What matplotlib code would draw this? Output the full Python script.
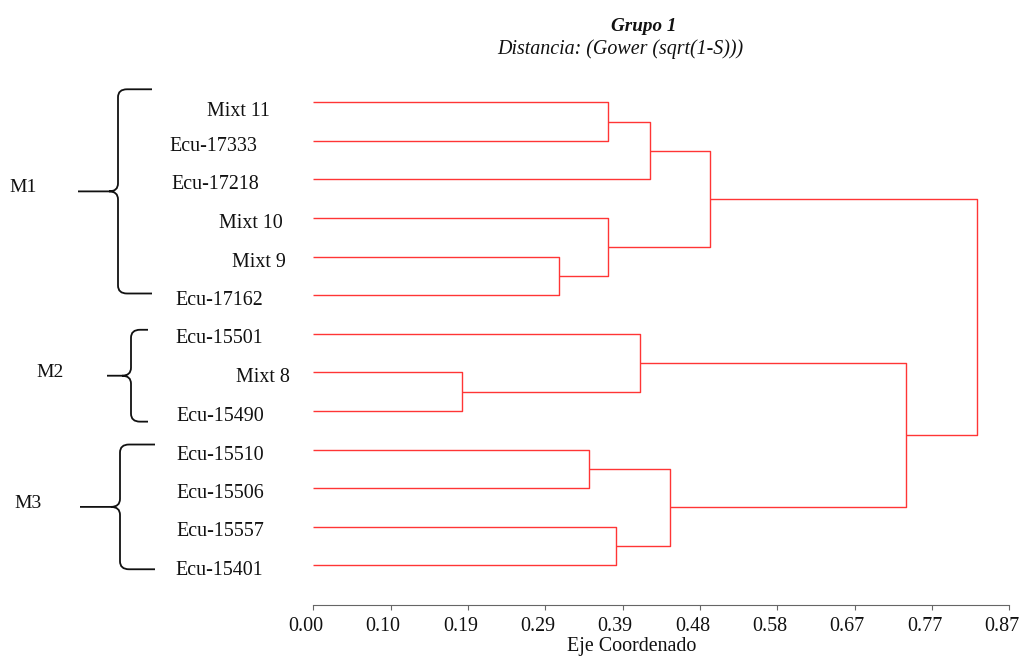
import matplotlib
matplotlib.use("Agg")
import matplotlib.pyplot as plt
import matplotlib.transforms as mtransforms
from matplotlib.path import Path
from matplotlib.patches import PathPatch

# Data
leaf_labels = [
    "Mixt 11", "Ecu-17333", "Ecu-17218", "Mixt 10", "Mixt 9", "Ecu-17162",
    "Ecu-15501", "Mixt 8", "Ecu-15490",
    "Ecu-15510", "Ecu-15506", "Ecu-15557", "Ecu-15401",
]
# merge k creates node 13 + k from (left, right) at the given distance
merge_left = [0, 13, 4, 3, 14, 7, 6, 9, 11, 20, 19, 17]
merge_right = [1, 2, 5, 15, 16, 8, 18, 10, 12, 21, 22, 23]
merge_height = [0.367, 0.419, 0.306, 0.367, 0.4945, 0.1856,
                0.407, 0.3438, 0.3771, 0.4443, 0.7387, 0.8264]

group_names = ["M1", "M2", "M3"]
group_first = [0, 6, 9]
group_last = [5, 8, 12]

X_MAX = 0.867
tick_labels = ["0.00", "0.10", "0.19", "0.29", "0.39",
               "0.48", "0.58", "0.67", "0.77", "0.87"]

title = "Grupo 1"
subtitle = "Distancia: (Gower (sqrt(1-S)))"
xlabel = "Eje Coordenado"

# Layout (pixels)
W, H = 1021, 657
LINE_COLOR = "#ff3535"
label_end_px = [270, 257, 259, 283, 286, 263, 263, 290, 264, 264, 264, 264, 263]
label_dy_px = [13.5, 10, 10, 10, 10, 9.5, 9.5, 10, 10, 10, 10, 9.5, 10]
brace_x = [(78, 118, 152), (107, 131, 148), (80, 120, 155)]
brace_pad = [(13, -1.7), (4, 10.7), (5, 4)]
group_label_x = [23, 50, 28]

plt.rcParams.update({
    "font.family": "Liberation Serif",
    "font.size": 14.4,
    "text.color": "#111111",
})

fig = plt.figure(figsize=(W / 100, H / 100), dpi=100)

# overlay in pixel coordinates (y downwards) for annotations
ax_o = fig.add_axes([0, 0, 1, 1], zorder=-1)
ax_o.set_xlim(0, W)
ax_o.set_ylim(H, 0)
ax_o.axis("off")

ax = fig.add_axes([313.3 / W, (H - 604.7) / H, 696 / W, (604.7 - 85) / H])
ax.patch.set_visible(False)
ax.set_xlim(0, X_MAX)
ax.set_ylim(13.022, -0.448)

# Dendrogram
n = len(leaf_labels)
node_y = list(range(n))
node_h = [0.0] * n
for a, b, h in zip(merge_left, merge_right, merge_height):
    ax.plot([node_h[a], h, h, node_h[b]], [node_y[a], node_y[a], node_y[b], node_y[b]],
            color=LINE_COLOR, lw=1.0, solid_capstyle="butt")
    node_y.append((node_y[a] + node_y[b]) / 2)
    node_h.append(h)

# Axis
for s in ["left", "top", "right"]:
    ax.spines[s].set_visible(False)
ax.spines["bottom"].set_color("#666666")
ax.spines["bottom"].set_linewidth(0.8)
ticks = [X_MAX * k / (len(tick_labels) - 1) for k in range(len(tick_labels))]
ax.set_xticks(ticks)
ax.set_yticks([])
ax.tick_params(axis="x", direction="out", length=3.4, width=0.8, color="#666666",
               labelbottom=False)

tick_trans = mtransforms.blended_transform_factory(ax.transData, ax_o.transData) + \
    mtransforms.ScaledTranslation(-7.5 / 100, 0, fig.dpi_scale_trans)
for t, lab in zip(ticks, tick_labels):
    ax.text(t, 630.7, lab, transform=tick_trans, ha="center", va="baseline",
            fontsize=14.4, clip_on=False)


def leaf_px(i):
    return H - ax.transData.transform((0, i))[1]


# Leaf labels
for i, lab in enumerate(leaf_labels):
    ax_o.text(label_end_px[i], leaf_px(i) + label_dy_px[i], lab,
              ha="right", va="baseline", fontsize=14.4)


def draw_brace(xt, xs, xe, yt, yb):
    ym = (yt + yb) / 2
    rx, ry = 9, 8
    verts = [
        (xe, yt), (xs + rx, yt),
        (xs, yt), (xs, yt + ry),
        (xs, ym - ry),
        (xs, ym), (xs - rx, ym),
        (xt, ym),
        (xs - rx, ym),
        (xs, ym), (xs, ym + ry),
        (xs, yb - ry),
        (xs, yb), (xs + rx, yb),
        (xe, yb),
    ]
    codes = [Path.MOVETO, Path.LINETO,
             Path.CURVE3, Path.CURVE3,
             Path.LINETO,
             Path.CURVE3, Path.CURVE3,
             Path.LINETO,
             Path.MOVETO,
             Path.CURVE3, Path.CURVE3,
             Path.LINETO,
             Path.CURVE3, Path.CURVE3,
             Path.LINETO]
    ax_o.add_patch(PathPatch(Path(verts, codes), facecolor="none",
                             edgecolor="#111111", lw=1.3))
    return ym


# Group braces
for g, name in enumerate(group_names):
    xt, xs, xe = brace_x[g]
    yt = leaf_px(group_first[g]) - brace_pad[g][0]
    yb = leaf_px(group_last[g]) + brace_pad[g][1]
    ym = draw_brace(xt, xs, xe, yt, yb)
    ax_o.text(group_label_x[g], ym + 1, name, ha="center", va="baseline", fontsize=14)

# Titles
ax_o.text(643.3, 30.7, title, ha="center", va="baseline", fontsize=13.8,
          fontweight="bold", fontstyle="italic")
ax_o.text(620.5, 54, subtitle, ha="center", va="baseline", fontsize=14.4,
          fontstyle="italic")
ax_o.text(631.7, 651.5, xlabel, ha="center", va="baseline", fontsize=14.4)

fig.savefig("out.png", dpi=100)
